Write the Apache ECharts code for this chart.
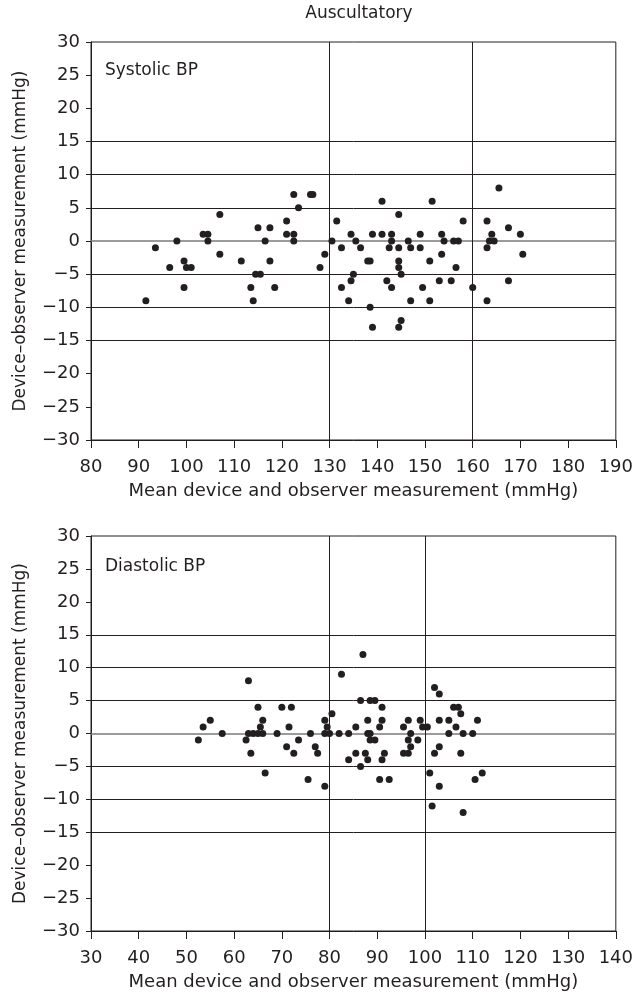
<!DOCTYPE html>
<html>
<head>
<meta charset="utf-8">
<script src="https://cdn.jsdelivr.net/npm/echarts@6/dist/echarts.min.js"></script>
<style>
  html, body { margin: 0; padding: 0; background: #fff; }
  #chart { width: 636px; height: 992px; }
</style>
</head>
<body>
<div id="chart"></div>
<script>
// systolic: mean of device + observer vs difference
var sysMean = [91.5, 93.5, 96.5, 98, 99.5, 100, 101, 99.5, 103.5, 104.5, 104.5, 107, 107, 111.5, 115, 116.5,
  114.5, 115.5, 113.5, 114, 117.5, 117.5, 118.5, 122.5, 126, 126.5, 123.5, 121, 121, 122.5, 122.5, 129, 128,
  130.5, 131.5, 132.5, 134.5, 135.5, 136.5, 135, 134.5, 132.5, 134, 138, 138.5, 138.5, 139, 141, 141, 143, 143,
  142.5, 144.5, 144.5, 144.5, 144.5, 145, 142, 143, 145, 139, 144.5, 146.5, 147, 147, 149, 149, 151, 149.5, 151,
  151.5, 158, 153.5, 154, 156, 157, 153.5, 156.5, 153, 155.5, 160, 165.5, 163, 167.5, 170, 164, 163.5, 164.5,
  163, 170.5, 167.5, 163];
var sysDiff = [-9, -1, -4, 0, -3, -4, -4, -7, 1, 1, 0, 4, -2, -3, 2, 0,
  -5, -5, -7, -9, 2, -3, -7, 7, 7, 7, 5, 3, 1, 1, 0, -2, -4,
  0, 3, -1, 1, 0, -1, -5, -6, -7, -9, -3, -3, -10, 1, 1, 6, 1, 0,
  -1, -1, 4, -3, -4, -5, -6, -7, -12, -13, -13, 0, -1, -9, 1, -1, -3, -7, -9,
  6, 3, 1, 0, 0, 0, -2, -4, -6, -6, -7, 8, 3, 2, 1, 1, 0, 0,
  -1, -2, -6, -9];

// diastolic
var diaMean = [52.5, 53.5, 55, 57.5, 62.5, 63, 63, 63.5, 64, 65, 66, 65, 65.5, 66, 66.5,
  69, 70, 72, 71.5, 71, 72.5, 73.5, 76, 75.5, 77, 77.5, 79, 79, 79.5, 80, 79, 80.5, 82.5, 82, 84, 84,
  85.5, 85.5, 86.5, 86.5, 87.5, 88, 88, 88, 88.5, 88.5, 89.5, 88.5, 89.5, 91, 91, 90.5, 91.5, 91, 90.5, 92.5,
  95.5, 96.5, 97, 96.5, 98.5, 97, 95.5, 96.5, 99, 99.5, 100.5, 102, 102, 101, 101.5,
  103, 106, 107, 107.5, 103, 105, 111, 106.5, 105, 108, 110, 103, 107.5, 112, 110.5, 103, 108, 87];
var diaDiff = [-1, 1, 2, 0, -1, 0, 8, -3, 0, 0, 0, 4, 1, 2, -6,
  0, 4, 4, 1, -2, -3, -1, 0, -7, -2, -3, 2, 0, 1, 0, -8, 3, 9, 0, 0, -4,
  1, -3, 5, -5, -3, -4, 2, 0, 0, -1, -1, 5, 5, 4, 2, 1, -3, -4, -7, -7,
  1, 2, 0, -1, -1, -2, -3, -3, 2, 1, 1, 7, -3, -6, -11,
  6, 4, 4, 3, 2, 2, 2, 1, 0, 0, 0, -2, -3, -6, -7, -8, -12, 12];

var sysLines = [130, 160];
var diaLines = [80, 100];
var agreeLines = [15, 10, 5, -5, -10, -15];

var ink = '#231f20';
var font = 'DejaVu Sans';

function pairs(xs, ys) {
  return xs.map(function (x, i) { return [x, ys[i]]; });
}

function refLines(xs) {
  var d = [];
  agreeLines.forEach(function (v) { d.push({ yAxis: v }); });
  // zero line is a bit lighter and heavier in the original
  d.push({ yAxis: 0, lineStyle: { color: '#7a7a7a', width: 1.6, type: 'solid' } });
  xs.forEach(function (v) { d.push({ xAxis: v }); });
  return d;
}

function xAxisOf(idx, min, max) {
  return {
    type: 'value', gridIndex: idx, min: min, max: max, interval: 10,
    name: 'Mean device and observer measurement (mmHg)',
    nameLocation: 'middle', nameGap: 42,
    nameTextStyle: { color: ink, fontFamily: font, fontSize: 18 },
    axisLine: { show: true, onZero: false, lineStyle: { color: ink, width: 1 } },
    axisTick: { show: true, inside: false, length: 8, lineStyle: { color: ink } },
    axisLabel: { color: ink, fontFamily: font, fontSize: 18, margin: 18 },
    splitLine: { show: false }
  };
}

function yAxisOf(idx) {
  return {
    type: 'value', gridIndex: idx, min: -30, max: 30, interval: 5,
    name: 'Device\u2013observer measurement (mmHg)',
    nameLocation: 'middle', nameGap: 62,
    nameTextStyle: { color: ink, fontFamily: font, fontSize: 17 },
    axisLine: { show: true, onZero: false, lineStyle: { color: ink, width: 1 } },
    axisTick: { show: true, inside: false, length: 5, lineStyle: { color: ink } },
    axisLabel: {
      color: ink, fontFamily: font, fontSize: 18, margin: 11,
      formatter: function (v) { return v < 0 ? '\u2212' + (-v) : String(v); }
    },
    splitLine: { show: false }
  };
}

function scatterOf(idx, data, xs) {
  return {
    type: 'scatter', xAxisIndex: idx, yAxisIndex: idx,
    data: data, symbolSize: 7, z: 3,
    itemStyle: { color: ink, opacity: 1 },
    markLine: {
      silent: true, symbol: 'none', label: { show: false }, z: 2,
      lineStyle: { color: ink, width: 1, type: 'solid' },
      data: refLines(xs)
    }
  };
}

var myChart = echarts.init(document.getElementById('chart'));
myChart.setOption({
  animation: false,
  backgroundColor: '#fff',
  title: [
    { text: 'Auscultatory', left: 354, top: 0, textAlign: 'center',
      textStyle: { color: ink, fontFamily: font, fontSize: 17, fontWeight: 'normal' } },
    { text: 'Systolic BP', left: 100, top: 57,
      textStyle: { color: ink, fontFamily: font, fontSize: 17, fontWeight: 'normal' } },
    { text: 'Diastolic BP', left: 100, top: 553,
      textStyle: { color: ink, fontFamily: font, fontSize: 17, fontWeight: 'normal' } }
  ],
  grid: [
    { left: 91, top: 42, width: 525, height: 398, show: true, borderColor: ink, borderWidth: 1 },
    { left: 91, top: 536, width: 525, height: 396, show: true, borderColor: ink, borderWidth: 1 }
  ],
  xAxis: [xAxisOf(0, 80, 190), xAxisOf(1, 30, 140)],
  yAxis: [yAxisOf(0), yAxisOf(1)],
  series: [
    scatterOf(0, pairs(sysMean, sysDiff), sysLines),
    scatterOf(1, pairs(diaMean, diaDiff), diaLines)
  ]
});
</script>
</body>
</html>
